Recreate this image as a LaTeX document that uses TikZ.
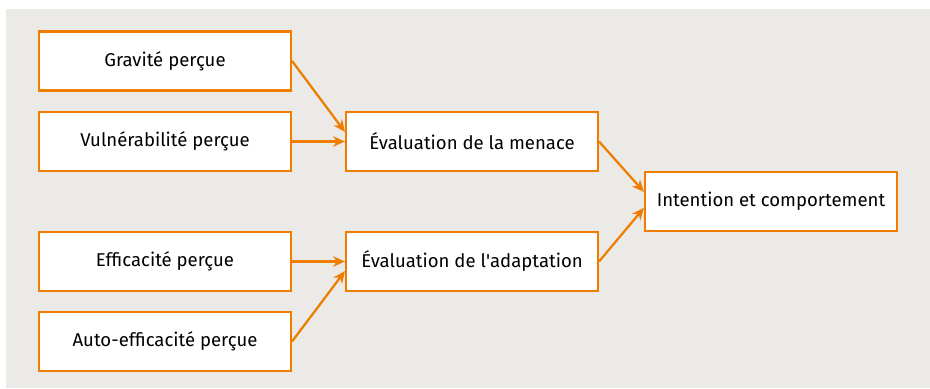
\documentclass[tikz,border=0pt]{standalone}
\usepackage{fontspec}
\setmainfont{Fira Sans}
\usetikzlibrary{positioning, arrows.meta, calc}

\definecolor{accent}{RGB}{239,125,0}
\definecolor{panel}{RGB}{236,234,231}

\begin{document}
\begin{tikzpicture}[
    >={Stealth[length=8.5pt, width=7.5pt]},
    factor/.style={draw=accent, line width=1.5pt, rectangle, minimum width=6.3cm, minimum height=1.475cm, align=center, font=\fontsize{13.2}{15}\selectfont, fill=white},
    link/.style={->, line width=1.6pt, accent}
]

% 0. Background panel
\useasboundingbox (0,0) rectangle (23.25,9.7);
\fill[panel] (0.15,0) rectangle (23.25,9.475);

% 1. Perceived factors (left column)
\node[factor] (grav) at (4.125, 8.175) {Gravité perçue};
\node[factor] (vuln) at (4.125, 6.1625) {Vulnérabilité perçue};
\node[factor] (eff)  at (4.125, 3.1625) {Efficacité perçue};
\node[factor] (auto) at (4.125, 1.1625) {Auto-efficacité perçue};

% 2. Evaluations (middle column)
\node[factor] (menace) at (11.8, 6.1625) {Évaluation de la menace};
\node[factor] (adapt)  at (11.8, 3.1625) {Évaluation de l\textquotesingle adaptation};

% 3. Outcome
\node[factor] (intent) at (19.275, 4.6625) {Intention et comportement};

% 4. Arrows
\draw[link] (grav.east) -- ($(menace.west)+(0,0.24)$);
\draw[link] (vuln.east) -- (menace.west);
\draw[link] (eff.east) -- (adapt.west);
\draw[link] (auto.east) -- ($(adapt.west)+(0,-0.24)$);
\draw[link] (menace.east) -- ($(intent.west)+(0,0.24)$);
\draw[link] (adapt.east) -- ($(intent.west)+(0,-0.16)$);

\end{tikzpicture}
\end{document}
